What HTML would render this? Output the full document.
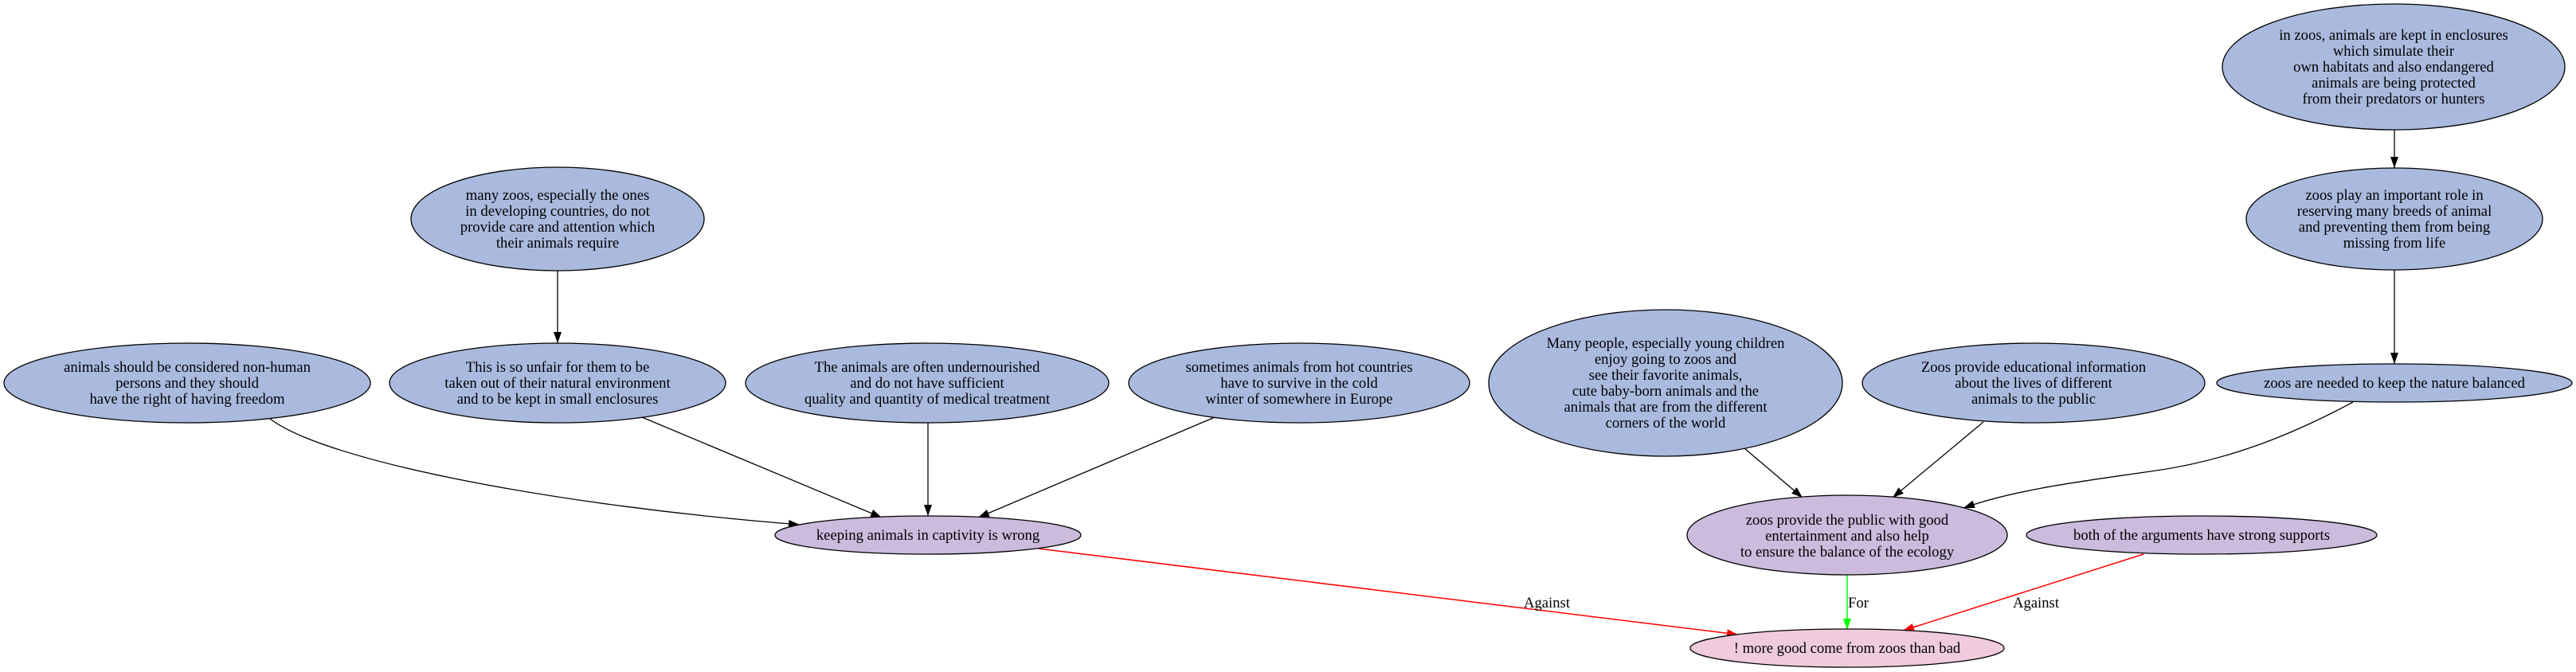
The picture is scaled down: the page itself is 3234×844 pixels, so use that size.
<!DOCTYPE html>
<html><head><meta charset="utf-8"><style>
html,body{margin:0;padding:0;background:#fff;}
svg{display:block;}
text{font-family:"Liberation Serif","Times New Roman",serif;font-size:18.67px;fill:#000;}
</style></head><body>
<svg width="3234" height="844" viewBox="0 0 3234 844" xmlns="http://www.w3.org/2000/svg">
<defs>
<marker id="ab" markerUnits="userSpaceOnUse" markerWidth="14" markerHeight="10" refX="14" refY="5" orient="auto"><path d="M0,0 L14,5 L0,10 z" fill="#000"/></marker>
<marker id="ar" markerUnits="userSpaceOnUse" markerWidth="14" markerHeight="10" refX="14" refY="5" orient="auto"><path d="M0,0 L14,5 L0,10 z" fill="#f00"/></marker>
<marker id="ag" markerUnits="userSpaceOnUse" markerWidth="14" markerHeight="10" refX="14" refY="5" orient="auto"><path d="M0,0 L14,5 L0,10 z" fill="#0f0"/></marker>
</defs>
<g fill="none" stroke="#000" stroke-width="1.3">
<path d="M700,340 L700,431" marker-end="url(#ab)"/>
<path d="M339,526 C410,580 700,635 1004,659" marker-end="url(#ab)"/>
<path d="M806,524 L1107,650" marker-end="url(#ab)"/>
<path d="M1165,531 L1165,648" marker-end="url(#ab)"/>
<path d="M1525,524 L1228,650" marker-end="url(#ab)"/>
<path d="M3006,162 L3006,211" marker-end="url(#ab)"/>
<path d="M3006,339 L3006,457" marker-end="url(#ab)"/>
<path d="M2190,563 L2263,625" marker-end="url(#ab)"/>
<path d="M2490,530 L2376,625" marker-end="url(#ab)"/>
<path d="M2954,505 C2870,550 2790,580 2700,592 C2610,605 2530,615 2465,638" marker-end="url(#ab)"/>
</g>
<path d="M1304,689 L2182,797" stroke="#f00" stroke-width="1.5" fill="none" marker-end="url(#ar)"/>
<path d="M2319,722 L2319,791" stroke="#0f0" stroke-width="1.5" fill="none" marker-end="url(#ag)"/>
<path d="M2691,696 L2389,792" stroke="#f00" stroke-width="1.5" fill="none" marker-end="url(#ar)"/>
<text x="1942" y="763" text-anchor="middle">Against</text>
<text x="2320" y="763">For</text>
<text x="2556" y="763" text-anchor="middle">Against</text>

<g stroke="#000" stroke-width="1.3">
<ellipse cx="235" cy="481" rx="230" ry="50" fill="#aabade"/>
<ellipse cx="700" cy="275" rx="184" ry="65" fill="#aabade"/>
<ellipse cx="700" cy="481" rx="211" ry="50" fill="#aabade"/>
<ellipse cx="1164" cy="481" rx="228" ry="50" fill="#aabade"/>
<ellipse cx="1631" cy="481" rx="214" ry="50" fill="#aabade"/>
<ellipse cx="1165" cy="672" rx="192" ry="24" fill="#cbbbdd"/>
<ellipse cx="2091" cy="481" rx="222" ry="92" fill="#aabade"/>
<ellipse cx="2553" cy="481" rx="215" ry="50" fill="#aabade"/>
<ellipse cx="3005" cy="84" rx="215" ry="79" fill="#aabade"/>
<ellipse cx="3006" cy="275" rx="186" ry="64" fill="#aabade"/>
<ellipse cx="3006" cy="481" rx="223" ry="24" fill="#aabade"/>
<ellipse cx="2319" cy="672" rx="201" ry="50" fill="#cbbbdd"/>
<ellipse cx="2764" cy="672" rx="220" ry="24" fill="#cbbbdd"/>
<ellipse cx="2319" cy="814" rx="197" ry="24" fill="#efcbdd"/>
</g>

<g text-anchor="middle">
<text x="235" y="467">animals should be considered non-human</text>
<text x="235" y="487">persons and they should</text>
<text x="235" y="507">have the right of having freedom</text>

<text x="700" y="251">many zoos, especially the ones</text>
<text x="700" y="271">in developing countries, do not</text>
<text x="700" y="291">provide care and attention which</text>
<text x="700" y="311">their animals require</text>

<text x="700" y="467">This is so unfair for them to be</text>
<text x="700" y="487">taken out of their natural environment</text>
<text x="700" y="507">and to be kept in small enclosures</text>

<text x="1164" y="467">The animals are often undernourished</text>
<text x="1164" y="487">and do not have sufficient</text>
<text x="1164" y="507">quality and quantity of medical treatment</text>

<text x="1631" y="467">sometimes animals from hot countries</text>
<text x="1631" y="487">have to survive in the cold</text>
<text x="1631" y="507">winter of somewhere in Europe</text>

<text x="1165" y="678">keeping animals in captivity is wrong</text>

<text x="2091" y="437">Many people, especially young children</text>
<text x="2091" y="457">enjoy going to zoos and</text>
<text x="2091" y="477">see their favorite animals,</text>
<text x="2091" y="497">cute baby-born animals and the</text>
<text x="2091" y="517">animals that are from the different</text>
<text x="2091" y="537">corners of the world</text>

<text x="2553" y="467">Zoos provide educational information</text>
<text x="2553" y="487">about the lives of different</text>
<text x="2553" y="507">animals to the public</text>

<text x="3005" y="50">in zoos, animals are kept in enclosures</text>
<text x="3005" y="70">which simulate their</text>
<text x="3005" y="90">own habitats and also endangered</text>
<text x="3005" y="110">animals are being protected</text>
<text x="3005" y="130">from their predators or hunters</text>

<text x="3006" y="251">zoos play an important role in</text>
<text x="3006" y="271">reserving many breeds of animal</text>
<text x="3006" y="291">and preventing them from being</text>
<text x="3006" y="311">missing from life</text>

<text x="3006" y="487">zoos are needed to keep the nature balanced</text>

<text x="2319" y="659">zoos provide the public with good</text>
<text x="2319" y="679">entertainment and also help</text>
<text x="2319" y="699">to ensure the balance of the ecology</text>

<text x="2764" y="678">both of the arguments have strong supports</text>

<text x="2319" y="820">! more good come from zoos than bad</text>
</g>
</svg>
</body></html>
